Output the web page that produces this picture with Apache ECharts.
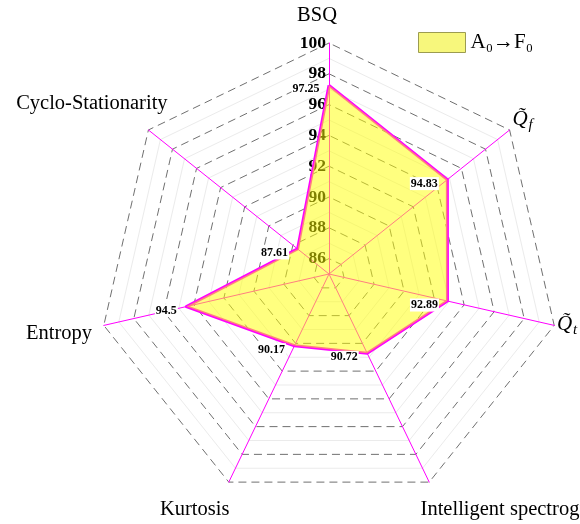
<!DOCTYPE html>
<html>
<head>
  <meta charset="UTF-8">
  <title>Radar</title>
  <script src="https://cdn.jsdelivr.net/npm/echarts@6/dist/echarts.min.js"></script>
  <style>
    html, body { margin: 0; padding: 0; background: #fff; }
    #chart { width: 580px; height: 524px; }
  </style>
</head>
<body>
  <div id="chart"></div>
  <script>
    // indicators, listed counterclockwise from the top (ECharts order)
    const indicatorNames = ['BSQ', 'Cyclo-Stationarity', 'Entropy', 'Kurtosis',
      'Intelligent spectrogram', 'Qt', 'Qf'];
    const values = [97.25, 87.61, 94.5, 90.17, 90.72, 92.89, 94.83];
    const seriesName = 'A₀→F₀';
    const axisMin = 85;
    const axisMax = 100;

    const serif = 'Liberation Serif';

    // small nudges so the names sit where they do in the original figure
    const namePadding = [
      [0, 24, 7, 0],
      [0, -27, 40, 0],
      [12, 2, 0, 0],
      [36, -5, 0, 0],
      [36, 0, 0, -13],
      [0, 0, 6, -7],
      [0, 0, 8, -5]
    ];

    function buildIndicators(withLabel) {
      return indicatorNames.map((name, i) => {
        const ind = { name: name, min: axisMin, max: axisMax };
        if (withLabel) {
          ind.nameTextStyle = { padding: namePadding[i] };
        }
        if (withLabel && i === 0) {
          ind.axisLabel = {
            show: true,
            fontFamily: serif,
            fontWeight: 'bold',
            fontSize: 17.5,
            color: '#000',
            margin: 3,
            formatter: v => (v % 2 === 0 ? String(v) : '')
          };
        }
        return ind;
      });
    }

    const chart = echarts.init(document.getElementById('chart'));
    chart.setOption({
      animation: false,
      backgroundColor: '#fff',
      legend: {
        left: 413,
        top: 27,
        itemWidth: 47,
        itemHeight: 20,
        icon: 'rect',
        textStyle: { fontFamily: serif, fontSize: 21, color: '#000' },
        data: [{
          name: seriesName,
          itemStyle: { color: '#f7f77c', borderColor: '#9c9c50', borderWidth: 1 }
        }]
      },
      radar: [
        {
          // dashed rings at even values
          center: [329, 274],
          radius: 231,
          startAngle: 90,
          splitNumber: 15,
          shape: 'polygon',
          indicator: buildIndicators(false),
          axisName: { show: false },
          axisLine: { show: false },
          axisTick: { show: false },
          axisLabel: { show: false },
          splitArea: { show: false },
          splitLine: {
            lineStyle: { color: ['rgba(0,0,0,0)', '#707070'], type: [8, 5], width: 1 }
          }
        },
        {
          // light solid rings at odd values, axes, names
          center: [329, 274],
          radius: 231,
          startAngle: 90,
          splitNumber: 15,
          shape: 'polygon',
          indicator: buildIndicators(true),
          axisNameGap: 10,
          axisName: {
            show: true,
            color: '#000',
            fontFamily: serif,
            fontSize: 20.5,
            formatter: function (name) {
              if (name === 'Qf') return '{q|Q̃}{s|f}';
              if (name === 'Qt') return '{q|Q̃}{s|t}';
              return name;
            },
            rich: {
              q: { fontFamily: serif, fontStyle: 'italic', fontSize: 21, color: '#000' },
              s: { fontFamily: serif, fontStyle: 'italic', fontSize: 15, color: '#000', padding: [10, 0, 0, 1] }
            }
          },
          axisLine: { show: true, lineStyle: { color: '#ff00ff', width: 1 } },
          axisTick: { show: false },
          axisLabel: { show: false },
          splitArea: { show: false },
          splitLine: {
            lineStyle: { color: ['#ebebeb', 'rgba(0,0,0,0)'], type: 'solid', width: 1 }
          }
        }
      ],
      series: [{
        type: 'radar',
        radarIndex: 1,
        name: seriesName,
        symbol: 'circle',
        symbolSize: 1,
        itemStyle: { color: '#ff00ff' },
        lineStyle: { color: '#ff00ff', width: 3 },
        areaStyle: { color: '#ffff00', opacity: 0.5 },
        label: {
          show: true,
          position: 'left',
          distance: 8,
          offset: [0, 4],
          fontFamily: serif,
          fontWeight: 'bold',
          fontSize: 12,
          color: '#000',
          backgroundColor: '#fff',
          padding: [1, 1, 0, 1]
        },
        data: [{ name: seriesName, value: values }]
      }]
    });
  </script>
</body>
</html>
